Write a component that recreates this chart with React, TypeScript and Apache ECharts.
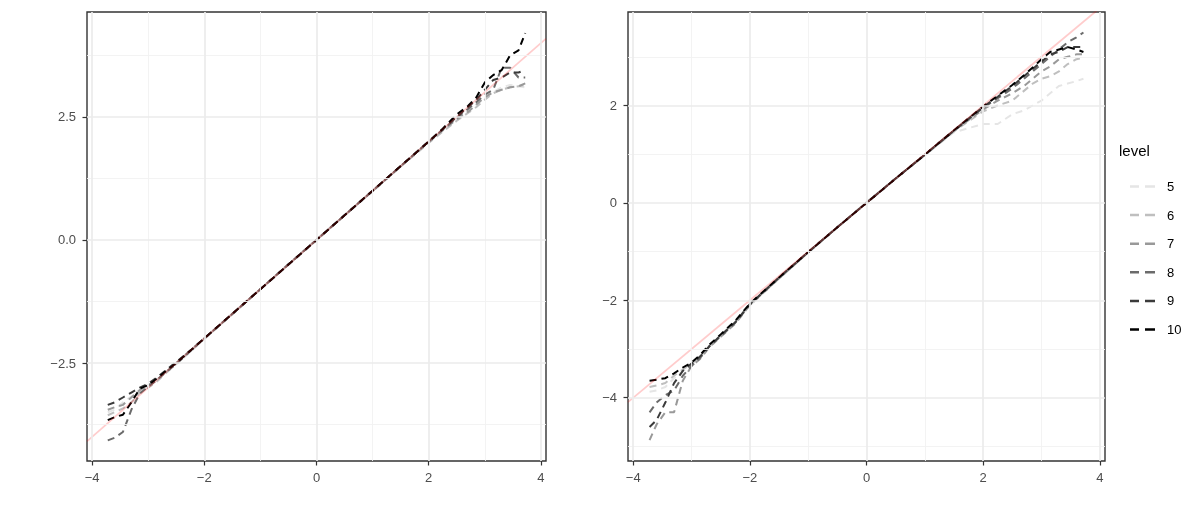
import { useRef, useEffect } from 'react'
import * as echarts from 'echarts'

// theoretical quantiles shared by every curve
const qx = [-3.72, -3.6, -3.45, -3.3, -3.15, -3.0, -2.85, -2.7, -2.5, -2.25, -2.0, -1.5, -1.0, -0.5, 0, 0.5, 1.0, 1.5, 2.0, 2.25, 2.5, 2.7, 2.85, 3.0, 3.15, 3.3, 3.45, 3.6, 3.72]

const levels = ['5', '6', '7', '8', '9', '10']
const levelColors = ['#e5e5e5', '#bfbfbf', '#999999', '#6b6b6b', '#3b3b3b', '#000000']

// left panel sample quantiles
const left5 = [-3.5, -3.45, -3.3, -3.18, -3.05, -2.97, -2.84, -2.7, -2.5, -2.26, -2.0, -1.5, -1.0, -0.5, 0.0, 0.5, 1.0, 1.5, 1.98, 2.22, 2.45, 2.62, 2.75, 2.88, 3.0, 3.1, 3.15, 3.12, 3.1]
const left6 = [-3.56, -3.5, -3.42, -3.3, -3.1, -3.0, -2.88, -2.72, -2.52, -2.27, -2.01, -1.5, -1.0, -0.5, 0.01, 0.5, 1.0, 1.49, 1.97, 2.2, 2.42, 2.58, 2.7, 2.85, 2.98, 3.05, 3.1, 3.12, 3.15]
const left7 = [-3.45, -3.4, -3.35, -3.2, -3.05, -2.95, -2.85, -2.7, -2.5, -2.24, -2.0, -1.51, -1.0, -0.49, 0.0, 0.5, 0.99, 1.5, 1.99, 2.23, 2.45, 2.6, 2.75, 2.9, 3.0, 3.05, 3.1, 3.12, 3.18]
const left8 = [-4.07, -4.02, -3.9, -3.45, -3.12, -2.98, -2.85, -2.7, -2.52, -2.26, -2.0, -1.5, -1.0, -0.5, 0.0, 0.5, 1.0, 1.5, 2.0, 2.24, 2.48, 2.66, 2.8, 2.95, 3.05, 3.5, 3.5, 3.3, 3.3]
const left9 = [-3.35, -3.3, -3.2, -3.1, -3.0, -2.92, -2.8, -2.66, -2.48, -2.25, -2.0, -1.5, -1.0, -0.5, 0.0, 0.5, 1.0, 1.5, 2.0, 2.25, 2.5, 2.7, 2.85, 3.05, 3.25, 3.3, 3.4, 3.4, 3.45]
const left10 = [-3.66, -3.6, -3.55, -3.3, -3.02, -2.95, -2.82, -2.68, -2.5, -2.25, -2.0, -1.5, -1.0, -0.5, 0.0, 0.5, 1.0, 1.5, 2.0, 2.26, 2.55, 2.72, 2.9, 3.2, 3.35, 3.45, 3.75, 3.85, 4.2]

// right panel sample quantiles
const right5 = [-3.88, -3.85, -3.78, -3.6, -3.45, -3.32, -3.16, -2.96, -2.73, -2.46, -2.1, -1.56, -1.02, -0.5, 0.02, 0.5, 0.98, 1.45, 1.62, 1.62, 1.82, 1.9, 2.0, 2.1, 2.25, 2.4, 2.45, 2.5, 2.55]
const right6 = [-3.78, -3.75, -3.7, -3.55, -3.42, -3.3, -3.15, -2.95, -2.72, -2.45, -2.08, -1.55, -1.02, -0.5, 0.01, 0.5, 0.98, 1.47, 1.88, 2.0, 2.1, 2.3, 2.45, 2.55, 2.6, 2.7, 2.85, 2.95, 2.98]
const right7 = [-4.87, -4.55, -4.3, -4.3, -3.65, -3.35, -3.2, -2.97, -2.75, -2.48, -2.1, -1.55, -1.02, -0.5, 0.0, 0.5, 0.98, 1.48, 1.92, 2.1, 2.25, 2.4, 2.55, 2.7, 2.8, 2.95, 3.0, 3.05, 3.05]
const right8 = [-4.3, -4.1, -3.95, -3.85, -3.55, -3.35, -3.18, -2.95, -2.74, -2.46, -2.09, -1.54, -1.01, -0.5, 0.0, 0.5, 0.99, 1.48, 1.95, 2.15, 2.35, 2.55, 2.7, 2.85, 3.0, 3.15, 3.3, 3.4, 3.5]
const right9 = [-4.6, -4.46, -4.1, -3.7, -3.45, -3.3, -3.15, -2.95, -2.72, -2.45, -2.08, -1.53, -1.01, -0.5, 0.0, 0.5, 0.99, 1.49, 1.97, 2.18, 2.4, 2.6, 2.75, 2.9, 3.05, 3.1, 3.2, 3.2, 3.2]
const right10 = [-3.65, -3.63, -3.6, -3.5, -3.38, -3.28, -3.12, -2.92, -2.7, -2.42, -2.07, -1.53, -1.01, -0.5, 0.0, 0.5, 0.99, 1.49, 1.98, 2.2, 2.42, 2.62, 2.78, 2.95, 3.1, 3.15, 3.2, 3.15, 3.1]

// axis ticks and grid lines
const xTicks = [-4, -2, 0, 2, 4]
const xMinor = [-3, -1, 1, 3]
const leftYTicks = [-2.5, 0, 2.5]
const leftYMinor = [-3.75, -1.25, 1.25, 3.75]
const rightYTicks = [-4, -2, 0, 2]
const rightYMinor = [-5, -3, -1, 1, 3]

const xRange = [-4.09, 4.09]
const leftYRange = [-4.49, 4.63]
const rightYRange = [-5.3, 3.92]

const leftSeries = [left5, left6, left7, left8, left9, left10]
const rightSeries = [right5, right6, right7, right8, right9, right10]

const FONT = 'Liberation Sans, Arial, sans-serif'
const fmt = (v: number) => (v < 0 ? '\u2212' : '') + String(Math.abs(v))
const fmtLeft = (v: number) => (v < 0 ? '\u2212' : '') + Math.abs(v).toFixed(1)

export default function App() {
  const chartRef = useRef<HTMLDivElement>(null)

  useEffect(() => {
    if (!chartRef.current) return
    const chart = echarts.init(chartRef.current, undefined, { renderer: 'svg' })

    const gridLines = (xi: number, xs: number[], ys: number[], xm: number[], ym: number[]) => ({
      type: 'line',
      xAxisIndex: xi,
      yAxisIndex: xi,
      data: [],
      z: 1,
      silent: true,
      markLine: {
        silent: true,
        symbol: 'none',
        label: { show: false },
        animation: false,
        data: [
          ...xm.map((v) => ({ xAxis: v, lineStyle: { color: '#f2f2f2', width: 0.9, type: 'solid' } })),
          ...ym.map((v) => ({ yAxis: v, lineStyle: { color: '#f2f2f2', width: 0.9, type: 'solid' } })),
          ...xs.map((v) => ({ xAxis: v, lineStyle: { color: '#ebebeb', width: 1.7, type: 'solid' } })),
          ...ys.map((v) => ({ yAxis: v, lineStyle: { color: '#ebebeb', width: 1.7, type: 'solid' } })),
        ],
      },
    })

    const curves = (idx: number, sets: number[][]) =>
      sets.map((ys, i) => ({
        name: levels[i],
        type: 'line',
        xAxisIndex: idx,
        yAxisIndex: idx,
        data: qx.map((x, j) => [x, ys[j]]),
        symbol: 'none',
        z: 3,
        lineStyle: { color: levelColors[i], width: 2, type: [7, 5] },
        itemStyle: { color: levelColors[i] },
      }))

    const refLine = (idx: number) => ({
      type: 'line',
      xAxisIndex: idx,
      yAxisIndex: idx,
      data: [[xRange[0], xRange[0]], [xRange[1], xRange[1]]],
      symbol: 'none',
      z: 4,
      silent: true,
      lineStyle: { color: 'rgba(255,0,0,0.2)', width: 1.8 },
    })

    const axisLine = { show: false, onZero: false }
    const tick = (vals: number[]) => ({ show: true, customValues: vals, length: 4.5, lineStyle: { color: '#333333', width: 1.2 } })

    const xAxis = (idx: number) => ({
      type: 'value',
      gridIndex: idx,
      min: xRange[0],
      max: xRange[1],
      axisLine,
      splitLine: { show: false },
      axisTick: tick(xTicks),
      axisLabel: { customValues: xTicks, formatter: fmt, color: '#4d4d4d', fontSize: 13, fontFamily: FONT, margin: 10 },
    })

    const yAxis = (idx: number, range: number[], ticks: number[], f: (v: number) => string) => ({
      type: 'value',
      gridIndex: idx,
      min: range[0],
      max: range[1],
      axisLine,
      splitLine: { show: false },
      axisTick: tick(ticks),
      axisLabel: { customValues: ticks, formatter: f, color: '#4d4d4d', fontSize: 13, fontFamily: FONT, margin: 11 },
    })

    chart.setOption({
      animation: false,
      title: {
        text: 'level',
        left: 1114,
        top: 138,
        textStyle: { fontSize: 15, fontWeight: 'normal', color: '#000', fontFamily: FONT },
      },
      legend: {
        data: levels,
        orient: 'vertical',
        left: 1125,
        top: 175,
        icon: 'path://M0,0H9V2H0Z M15,0H25V2H15Z',
        symbolKeepAspect: false,
        itemWidth: 25,
        itemHeight: 2.5,
        itemGap: 15.6,
        textStyle: { fontSize: 13, color: '#000', fontFamily: FONT, padding: [0, 0, 0, 7] },
        selectedMode: false,
      },
      grid: [
        { left: 87, top: 12, width: 459, height: 449, show: true, borderColor: '#333333', borderWidth: 1.4, backgroundColor: '#fff' },
        { left: 628, top: 12, width: 477, height: 449, show: true, borderColor: '#333333', borderWidth: 1.4, backgroundColor: '#fff' },
      ],
      xAxis: [xAxis(0), xAxis(1)],
      yAxis: [
        yAxis(0, leftYRange, leftYTicks, fmtLeft),
        yAxis(1, rightYRange, rightYTicks, fmt),
      ],
      series: [
        gridLines(0, xTicks, leftYTicks, xMinor, leftYMinor),
        gridLines(1, xTicks, rightYTicks, xMinor, rightYMinor),
        ...curves(0, leftSeries),
        ...curves(1, rightSeries),
        refLine(0),
        refLine(1),
      ],
    })

    return () => chart.dispose()
  }, [])

  return <div ref={chartRef} style={{ position: 'fixed', left: 0, top: 0, width: 1200, height: 525 }} />
}
